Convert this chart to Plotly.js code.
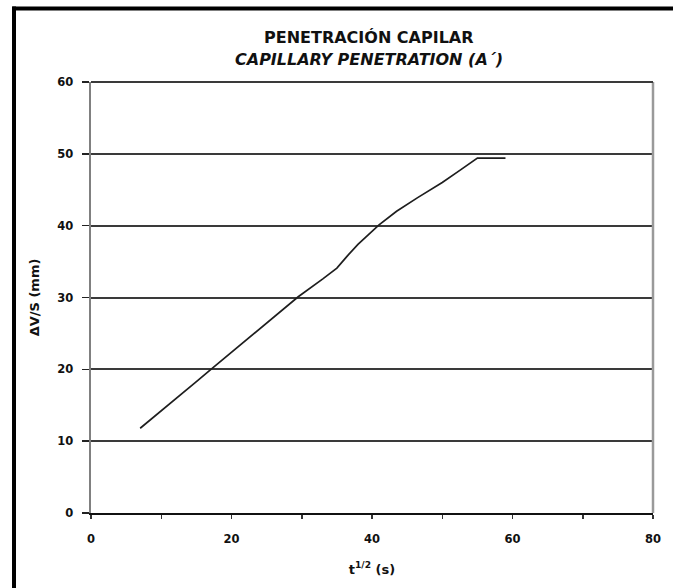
<!DOCTYPE html>
<html>
<head>
<meta charset="utf-8">
<script src="https://cdn.plot.ly/plotly-3.0.1.min.js"></script>
<style>
  html, body { margin: 0; padding: 0; background: #fff; }
  #chart { width: 673px; height: 588px; }
</style>
</head>
<body>
<div id="chart"></div>
<script>
// Capillary penetration: ΔV/S (mm) against square root of time t^1/2 (s)
const sqrtTime = [7, 9, 12, 15, 17.2, 21, 24, 27, 29.5, 33, 35, 36.5, 38, 41, 43.5, 46.5, 50, 52.5, 55, 59];
const penetration = [11.8, 13.4, 15.9, 18.3, 20.1, 23.2, 25.6, 28.1, 30.1, 32.6, 34.1, 35.8, 37.4, 40.1, 42.0, 43.9, 46.0, 47.7, 49.4, 49.4];

const xTicks = [0, 20, 40, 60, 80];
const yTicks = [0, 10, 20, 30, 40, 50, 60];

const titleLine1 = 'PENETRACIÓN CAPILAR';
const titleLine2 = 'CAPILLARY PENETRATION (A´)';

const trace = {
  x: sqrtTime,
  y: penetration,
  type: 'scatter',
  mode: 'lines',
  line: { color: '#1e1e1e', width: 1.7 },
  hoverinfo: 'x+y'
};

const FONT = 'DejaVu Sans, Verdana, sans-serif';
const tickFont = { family: FONT, size: 11.5, color: '#111', weight: 'bold' };

const layout = {
  width: 673,
  height: 588,
  margin: { l: 91, r: 20, t: 82, b: 75 },
  paper_bgcolor: '#fff',
  plot_bgcolor: '#fff',
  showlegend: false,
  annotations: [
    { text: '<b>' + titleLine1 + '</b>', xref: 'paper', yref: 'paper', x: 0.495, y: 1.0, yshift: 45,
      xanchor: 'center', yanchor: 'middle', showarrow: false,
      font: { family: FONT, size: 16, color: '#111' } },
    { text: '<b><i>' + titleLine2 + '</i></b>', xref: 'paper', yref: 'paper', x: 0.495, y: 1.0, yshift: 23,
      xanchor: 'center', yanchor: 'middle', showarrow: false,
      font: { family: FONT, size: 16, color: '#111' } }
  ],
  xaxis: {
    range: [0, 80],
    tickvals: xTicks,
    ticktext: xTicks.map(String),
    ticks: 'outside',
    ticklen: 4,
    tickwidth: 1.5,
    tickcolor: '#333',
    ticklabelstandoff: 10,
    minor: { dtick: 10, ticks: 'outside', ticklen: 4, tickwidth: 1.5, tickcolor: '#333' },
    showline: true,
    linecolor: '#111',
    linewidth: 2,
    showgrid: false,
    zeroline: false,
    tickfont: tickFont,
    title: { text: '<b>t<sup>1/2</sup> (s)</b>', font: { family: FONT, size: 13, color: '#111' }, standoff: 20 },
    fixedrange: true
  },
  yaxis: {
    range: [0, 60],
    tickvals: yTicks,
    ticktext: yTicks.map(String),
    ticks: 'outside',
    ticklen: 7,
    tickwidth: 1.5,
    tickcolor: '#222',
    ticklabelstandoff: 6,
    showline: true,
    linecolor: '#808080',
    linewidth: 2.5,
    mirror: false,
    showgrid: true,
    gridcolor: '#3a3a3a',
    gridwidth: 2,
    zeroline: false,
    tickfont: tickFont,
    title: { text: '<b>ΔV/S (mm)</b>', font: { family: FONT, size: 13, color: '#111' }, standoff: 15 },
    fixedrange: true
  },
  shapes: [
    // right border of the plot area
    { type: 'line', xref: 'paper', yref: 'paper', x0: 1, x1: 1, y0: 0, y1: 1,
      line: { color: '#9a9a9a', width: 2.5 } },
    // top border of the plot area
    { type: 'line', xref: 'paper', yref: 'paper', x0: 0, x1: 1, y0: 1, y1: 1,
      line: { color: '#3a3a3a', width: 2 } },
    // outer frame around the figure
    { type: 'line', xref: 'paper', yref: 'paper', x0: -0.137, x1: -0.137, y0: -0.2, y1: 1.175,
      line: { color: '#000', width: 4 } },
    { type: 'line', xref: 'paper', yref: 'paper', x0: -0.14, x1: 1.1, y0: 1.1705, y1: 1.1705,
      line: { color: '#000', width: 4 } }
  ]
};

Plotly.newPlot('chart', [trace], layout, { displayModeBar: false, staticPlot: true });
</script>
</body>
</html>
